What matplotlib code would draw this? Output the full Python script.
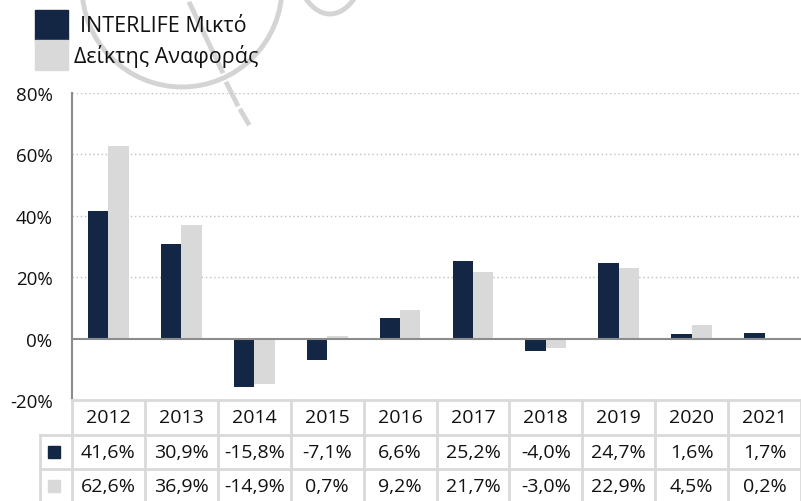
import matplotlib
matplotlib.use("Agg")
import matplotlib.pyplot as plt
from matplotlib.patches import Rectangle, Arc
from matplotlib.ticker import FuncFormatter

plt.rcParams['font.family'] = ['Open Sans', 'DejaVu Sans']

# data
years = ['2012', '2013', '2014', '2015', '2016', '2017', '2018', '2019', '2020', '2021']
fund = [41.6, 30.9, -15.8, -7.1, 6.6, 25.2, -4.0, 24.7, 1.6, 1.7]
bench = [62.6, 36.9, -14.9, 0.7, 9.2, 21.7, -3.0, 22.9, 4.5, 0.2]
names = ['INTERLIFE Μικτό', 'Δείκτης Αναφοράς']

navy = '#132744'
grey = '#d9d9d9'
W, H = 801, 502

fig = plt.figure(figsize=(W / 100, H / 100), dpi=100)

# faint watermark in the background
bg = fig.add_axes([0, 0, 1, 1], zorder=-5)
bg.set_xlim(0, W)
bg.set_ylim(H, 0)
bg.axis('off')
wm = dict(color='#d4d4d4', lw=3.5)
bg.add_patch(Arc((182, -12), 200, 200, theta1=0, theta2=180, **wm))
bg.add_patch(Arc((330, -60), 80, 150, theta1=0, theta2=180, **wm))
bg.add_patch(Arc((230, 520), 1000, 1040, theta1=90, theta2=140, **wm))
bg.plot([190, 222], [5, 72], **wm)
bg.plot([227, 237], [85, 105], **wm)
bg.plot([241, 248], [112, 124], **wm)

# main bars
ax = fig.add_axes([72 / W, 1 - 401 / H, 729 / W, 307 / H])
x = list(range(len(years)))
bw = 0.28
ax.bar([i - bw / 2 for i in x], fund, bw, color=navy, zorder=3)
ax.bar([i + bw / 2 for i in x], bench, bw, color=grey, zorder=3)
ax.set_xlim(-0.5, 9.5)
ax.set_ylim(-20, 80)
ax.set_yticks([-20, 0, 20, 40, 60, 80])
ax.yaxis.set_major_formatter(FuncFormatter(lambda v, p: f'{v:.0f}%'))
ax.tick_params(axis='y', length=0, pad=14, labelsize=13.5, labelcolor='#111111')
ax.set_xticks([])
for s in ['top', 'right', 'bottom']:
    ax.spines[s].set_visible(False)
ax.spines['left'].set_color('#8c8c8c')
ax.spines['left'].set_linewidth(1.5)
for g in [20, 40, 60, 80]:
    ax.axhline(g, color='#bfbfbf', lw=1, ls=(0, (1, 2)), zorder=1)
ax.axhline(0, color='#8c8c8c', lw=1.5, zorder=4)
ax.patch.set_alpha(0)

# legend
for k, (c, n) in enumerate(zip([navy, grey], names)):
    y0 = 11 + 30 * k
    fig.add_artist(Rectangle((35 / W, 1 - (y0 + 30) / H), 33 / W, 30 / H,
                             transform=fig.transFigure, color=c))
    fig.text((80 if k == 0 else 74) / W, 1 - (y0 + 16) / H, n,
             fontsize=15.5, va='center', ha='left', color='#111111')

# data table under the chart
tax = fig.add_axes([72 / W, 0, 729 / W, 101 / H])
rh = 34.5
tax.set_xlim(-0.5, 9.5)
tax.set_ylim(101 / rh, 0)
tax.axis('off')
kx = -0.5 - 32 / 72.9
lc = '#d9d9d9'
tax.plot([-0.5, 9.6], [0, 0], color=lc, lw=2, clip_on=False)
for r in [1, 2]:
    tax.plot([kx, 9.6], [r, r], color=lc, lw=2, clip_on=False)
for k in range(11):
    tax.plot([k - 0.5, k - 0.5], [0, 3.2], color=lc, lw=2, clip_on=False)
tax.plot([kx, kx], [1, 3.2], color=lc, lw=2, clip_on=False)

for i, yr in enumerate(years):
    tax.text(i, 0.5, yr, ha='center', va='center', fontsize=14, color='#111111')
    tax.text(i, 1.5, f'{fund[i]:.1f}%'.replace('.', ','), ha='center', va='center',
             fontsize=14, color='#111111')
    tax.text(i, 2.5, f'{bench[i]:.1f}%'.replace('.', ','), ha='center', va='center',
             fontsize=14, color='#111111')

sq = 12
for r, c in [(1, navy), (2, grey)]:
    cx = -0.5 - 18 / 72.9
    tax.add_patch(Rectangle((cx - sq / 2 / 72.9, r + 0.5 - sq / 2 / rh), sq / 72.9, sq / rh,
                            color=c, clip_on=False))

fig.savefig('out.png', dpi=100)
